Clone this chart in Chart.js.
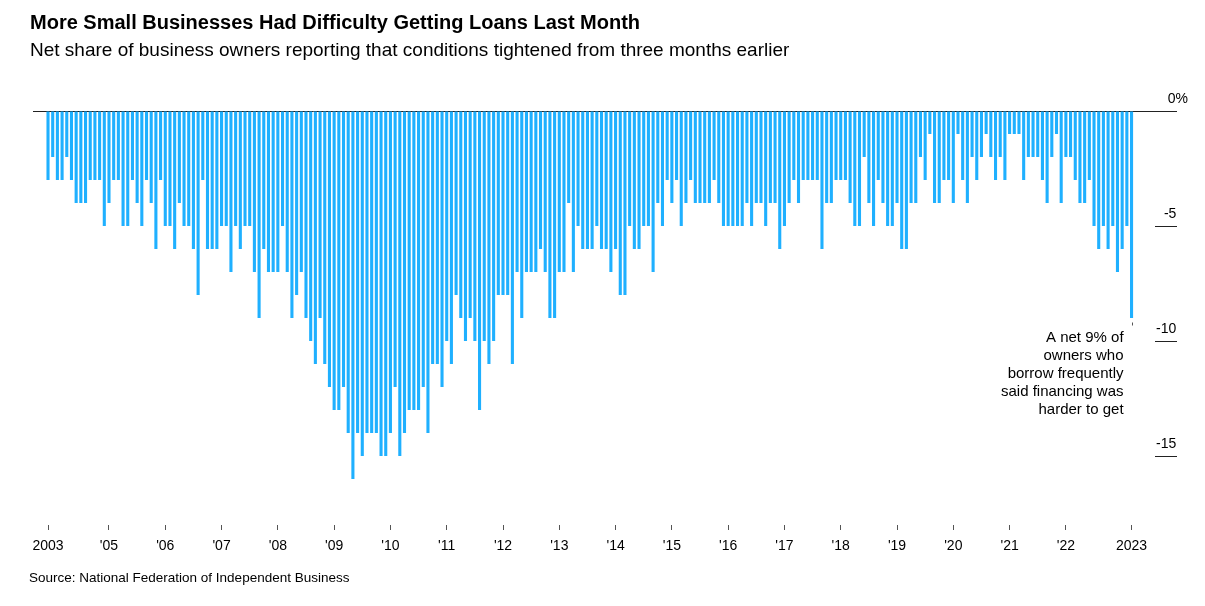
<!DOCTYPE html>
<html>
<head>
<meta charset="utf-8">
<script src="https://cdn.jsdelivr.net/npm/chart.js@4.4.1/dist/chart.umd.min.js"></script>
<style>
html,body{margin:0;padding:0;background:#fff;}
#wrap{position:relative;width:1205px;height:606px;overflow:hidden;font-family:"Liberation Sans",Arial,sans-serif;color:#000;}
#title{position:absolute;left:30px;top:10px;font-size:20px;font-weight:bold;line-height:24px;white-space:nowrap;}
#subtitle{position:absolute;left:30px;top:38px;font-size:19px;line-height:23px;white-space:nowrap;}
#source{position:absolute;left:29px;top:570px;font-size:13.5px;line-height:16px;white-space:nowrap;}
#chartBox{position:absolute;left:0;top:0;width:1205px;height:606px;}
</style>
</head>
<body>
<div id="wrap">
  <div id="chartBox"><canvas id="c"></canvas></div>
  <div id="title">More Small Businesses Had Difficulty Getting Loans Last Month</div>
  <div id="subtitle">Net share of business owners reporting that conditions tightened from three months earlier</div>
  <div id="source">Source: National Federation of Independent Business</div>
</div>
<script>
// Monthly values, first month is December 2003
const firstYear = 2003;
const firstMonth = 12;
const y2003 = [-3];
const y2004 = [-2,-3,-3,-2,-3,-4,-4,-4,-3,-3,-3,-5];
const y2005 = [-4,-3,-3,-5,-5,-3,-4,-5,-3,-4,-6,-3];
const y2006 = [-5,-5,-6,-4,-5,-5,-6,-8,-3,-6,-6,-6];
const y2007 = [-5,-5,-7,-5,-6,-5,-5,-7,-9,-6,-7,-7];
const y2008 = [-7,-5,-7,-9,-8,-7,-9,-10,-11,-9,-11,-12];
const y2009 = [-13,-13,-12,-14,-16,-14,-15,-14,-14,-14,-15,-15];
const y2010 = [-14,-12,-15,-14,-13,-13,-13,-12,-14,-11,-11,-12];
const y2011 = [-10,-11,-8,-9,-10,-9,-10,-13,-10,-11,-10,-8];
const y2012 = [-8,-8,-11,-7,-9,-7,-7,-7,-6,-7,-9,-9];
const y2013 = [-7,-7,-4,-7,-5,-6,-6,-6,-5,-6,-6,-7];
const y2014 = [-6,-8,-8,-5,-6,-6,-5,-5,-7,-4,-5,-3];
const y2015 = [-4,-3,-5,-4,-3,-4,-4,-4,-4,-3,-4,-5];
const y2016 = [-5,-5,-5,-5,-4,-5,-4,-4,-5,-4,-4,-6];
const y2017 = [-5,-4,-3,-4,-3,-3,-3,-3,-6,-4,-4,-3];
const y2018 = [-3,-3,-4,-5,-5,-2,-4,-5,-3,-4,-5,-5];
const y2019 = [-4,-6,-6,-4,-4,-2,-3,-1,-4,-4,-3,-3];
const y2020 = [-4,-1,-3,-4,-2,-3,-2,-1,-2,-3,-2,-3];
const y2021 = [-1,-1,-1,-3,-2,-2,-2,-3,-4,-2,-1,-4];
const y2022 = [-2,-2,-3,-4,-4,-3,-5,-6,-5,-6,-5,-7];
const y2023 = [-6,-5,-9];

const yearSeries = [y2003,y2004,y2005,y2006,y2007,y2008,y2009,y2010,y2011,y2012,
  y2013,y2014,y2015,y2016,y2017,y2018,y2019,y2020,y2021,y2022,y2023];

const tickYears = [2005,2006,2007,2008,2009,2010,2011,2012,2013,2014,2015,2016,2017,2018,2019,2020,2021,2022];
const tickLabels = ["2003","'05","'06","'07","'08","'09","'10","'11","'12","'13","'14","'15","'16","'17","'18","'19","'20","'21","'22","2023"];
const yTickValues = [0,-5,-10,-15];
const noteLines = ["A net 9% of","owners who","borrow frequently","said financing was","harder to get"];

const values = [];
const monthLabels = [];
yearSeries.forEach((arr, k) => {
  arr.forEach((v, j) => {
    const year = firstYear + k;
    const month = k === 0 ? firstMonth + j : j + 1;
    monthLabels.push(year + '-' + String(month).padStart(2, '0'));
    values.push(v);
  });
});
const tickIndex = [0].concat(tickYears.map(y => monthLabels.indexOf(y + '-01')), [values.length - 1]);

const FONT = '"Liberation Sans", Arial, sans-serif';
Chart.defaults.font.family = FONT;

const notePlugin = {
  id: 'note',
  afterDatasetsDraw(chart) {
    const meta = chart.getDatasetMeta(0);
    const el = meta.data[meta.data.length - 1];
    const ctx = chart.ctx;
    ctx.save();
    ctx.strokeStyle = '#555';
    ctx.lineWidth = 1;
    const lx = Math.round(el.x) + 0.5;
    ctx.beginPath();
    ctx.moveTo(lx, el.y + 4.5);
    ctx.lineTo(lx, el.y + 7.5);
    ctx.stroke();
    ctx.font = '15px ' + FONT;
    ctx.fillStyle = '#000';
    ctx.textAlign = 'right';
    ctx.textBaseline = 'middle';
    noteLines.forEach((t, i) => ctx.fillText(t, el.x - 8, el.y + 20 + i * 18));
    ctx.restore();
  }
};

new Chart(document.getElementById('c'), {
  type: 'bar',
  data: {
    datasets: [{
      data: values.map((v, i) => ({x: i, y: v})),
      backgroundColor: '#1fb0ff',
      borderWidth: 0,
      barPercentage: 0.66,
      categoryPercentage: 1
    }]
  },
  options: {
    responsive: true,
    maintainAspectRatio: false,
    animation: false,
    layout: {padding: {left: 33, right: 17, top: 111, bottom: 51}},
    plugins: {legend: {display: false}, tooltip: {enabled: false}},
    scales: {
      x: {
        type: 'linear',
        min: -3.2,
        max: 236,
        offset: false,
        afterBuildTicks: s => { s.ticks = tickIndex.map(v => ({value: v})); },
        afterFit: s => { s.height = 30; },
        grid: {display: true, drawOnChartArea: false, drawTicks: true, tickLength: 5, tickColor: '#555', offset: false},
        border: {display: false},
        ticks: {
          autoSkip: false, maxRotation: 0, minRotation: 0, padding: 8, color: '#000',
          font: {size: 14},
          callback: (v, i) => tickLabels[i]
        }
      },
      y: {
        type: 'linear',
        position: 'right',
        min: -18,
        max: 0,
        z: 1,
        afterBuildTicks: s => { s.ticks = yTickValues.map(v => ({value: v})); },
        afterFit: s => { s.width = 33; },
        grid: {
          drawOnChartArea: true, drawTicks: true, tickLength: 22, lineWidth: 1,
          color: c => (c.tick && c.tick.value === 0) ? '#222' : 'rgba(0,0,0,0)',
          tickColor: '#222'
        },
        border: {display: false},
        ticks: {
          crossAlign: 'far', labelOffset: -12, padding: 0, color: '#000',
          font: {size: 14},
          callback: v => v === 0 ? '0%' : v + '   '
        }
      }
    }
  },
  plugins: [notePlugin]
});
</script>
</body>
</html>
